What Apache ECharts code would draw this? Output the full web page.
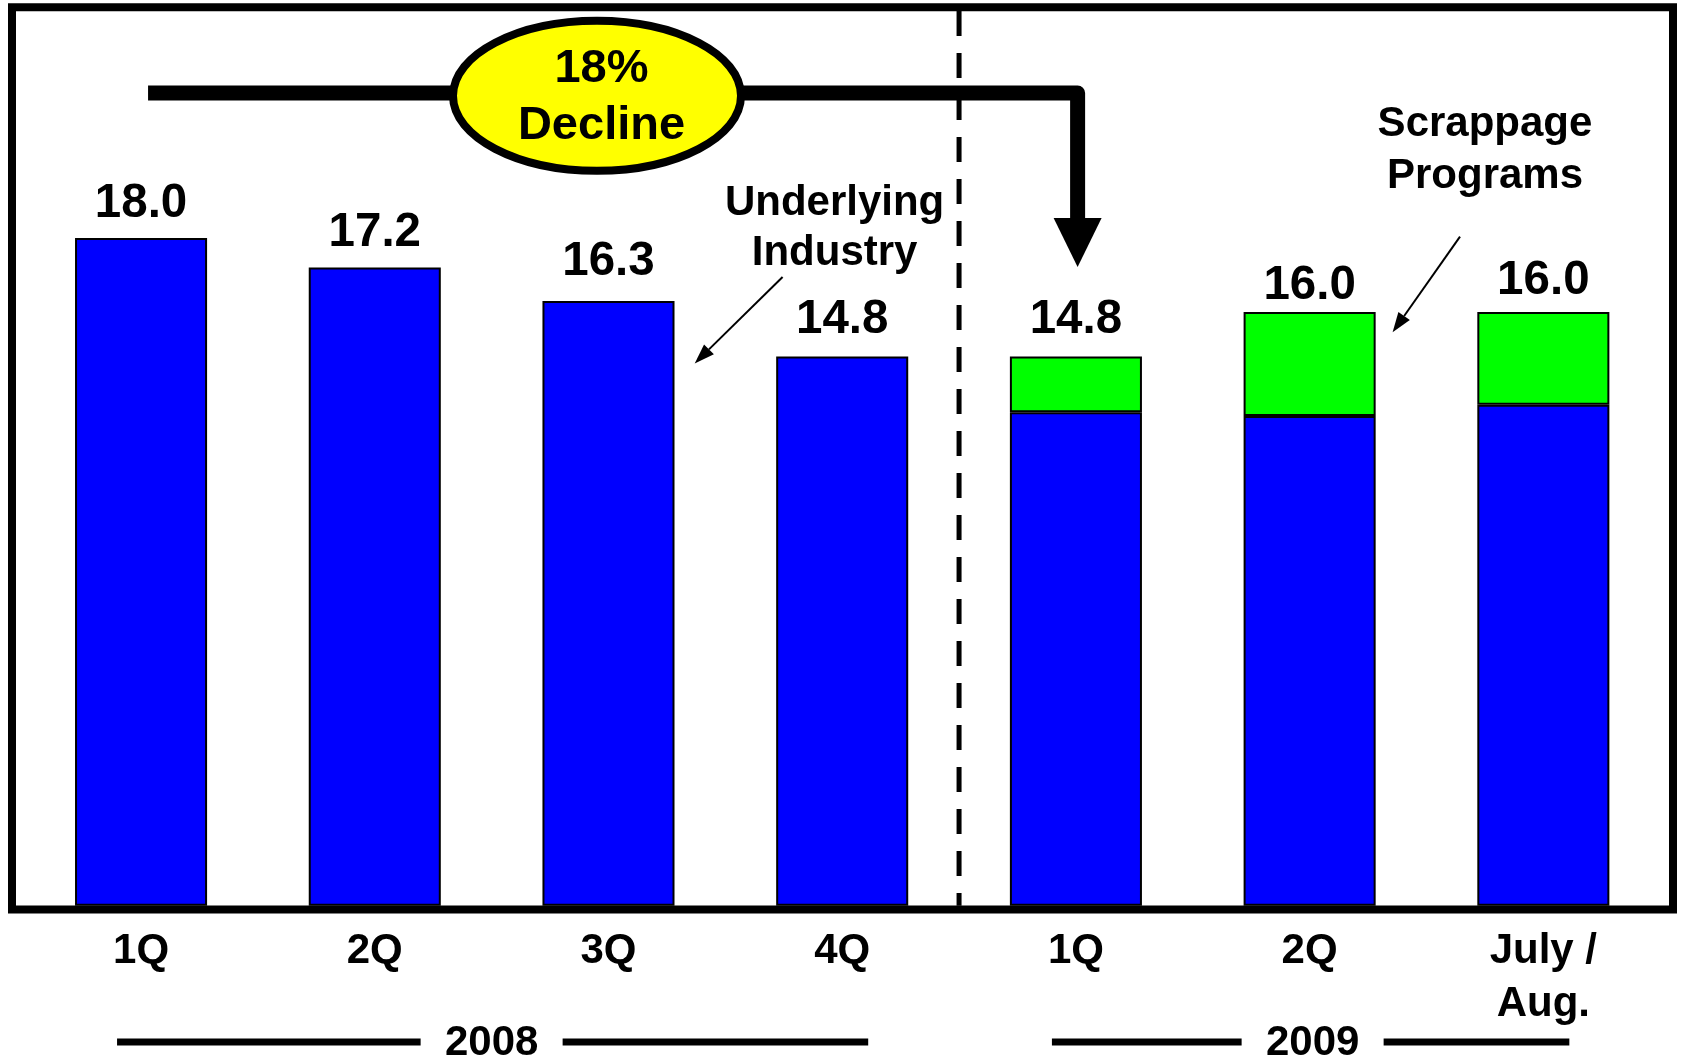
<!DOCTYPE html>
<html>
<head>
<meta charset="utf-8">
<title>Industry volume</title>
<script src="https://cdn.jsdelivr.net/npm/echarts@6/dist/echarts.min.js"></script>
<style>
  html, body { margin: 0; padding: 0; background: #fff; }
  #chart { width: 1681px; height: 1059px; }
</style>
</head>
<body>
<div id="chart"></div>
<script>
// Quarterly industry volume (SAAR, millions)
const categories = ['1Q', '2Q', '3Q', '4Q', '1Q', '2Q', 'July /\nAug.'];
const underlying = [18.0, 17.2, 16.3, 14.8, 13.3, 13.2, 13.5];
const scrappage = [null, null, null, null, 1.5, 2.8, 2.5];
const yearGroups = [
  { year: '2008', first: 0, last: 3 },
  { year: '2009', first: 4, last: 6 }
];
// pixel gap between each bar top and the baseline of its total label
const labelGap = [20, 21, 25, 23, 23, 12, 17];

const totals = underlying.map((u, i) => +(u + (scrappage[i] || 0)).toFixed(1));

const FONT = '"Liberation Sans", Arial, sans-serif';
const chart = echarts.init(document.getElementById('chart'), null, { renderer: 'canvas' });

const baselineShift = 10; // distance from label box bottom to digit baseline
const totalLabel = {
  show: true,
  position: 'top',
  color: '#000000',
  opacity: 1,
  textBorderWidth: 0,
  fontFamily: FONT,
  fontWeight: 'bold',
  fontSize: 47.5
};

chart.setOption({
  backgroundColor: '#ffffff',
  animation: false,
  grid: { left: 24.2, right: 20.8, top: 15.3, bottom: 153.3, containLabel: false },
  xAxis: {
    type: 'category',
    data: categories,
    axisLine: { show: false },
    axisTick: { show: false },
    axisLabel: {
      interval: 0,
      margin: 19,
      color: '#000',
      fontFamily: FONT,
      fontWeight: 'bold',
      fontSize: 42,
      lineHeight: 53
    }
  },
  yAxis: {
    type: 'value',
    min: 0,
    max: 24,
    show: false,
    splitLine: { show: false }
  },
  series: [
    {
      name: 'Underlying Industry',
      type: 'bar',
      stack: 'volume',
      barWidth: '56.5%',
      data: underlying,
      itemStyle: { color: '#0000ff', borderColor: '#000', borderWidth: 2 }
    },
    {
      name: 'Scrappage Programs',
      type: 'bar',
      stack: 'volume',
      barWidth: '56.5%',
      data: scrappage,
      itemStyle: { color: '#00ff00', borderColor: '#000', borderWidth: 2 }
    },
    {
      name: 'Total',
      type: 'scatter',
      symbolSize: 0,
      silent: true,
      itemStyle: { color: '#000000', opacity: 1 },
      data: totals.map((t, i) => ({
        value: t,
        label: Object.assign({}, totalLabel, {
          distance: labelGap[i] - baselineShift,
          formatter: t.toFixed(1)
        })
      })),
      label: totalLabel,
      emphasis: { disabled: true },
      z: 5
    }
  ]
});

// pixel centre of a category band
const cx = i => chart.convertToPixel({ xAxisIndex: 0 }, i);
const y0 = chart.convertToPixel({ yAxisIndex: 0 }, 0);

function thinArrow(x1, y1, x2, y2) {
  const a = Math.atan2(y2 - y1, x2 - x1);
  const len = 20, half = 7;
  const bx = x2 - len * Math.cos(a), by = y2 - len * Math.sin(a);
  const px = -Math.sin(a) * half, py = Math.cos(a) * half;
  return [
    { type: 'line', shape: { x1: x1, y1: y1, x2: bx, y2: by }, style: { stroke: '#000', lineWidth: 2 }, z: 10 },
    { type: 'polygon', shape: { points: [[x2, y2], [bx + px, by + py], [bx - px, by - py]] }, style: { fill: '#000' }, z: 10 }
  ];
}

const elements = [];

// outer frame (its bottom edge doubles as the category baseline)
elements.push({
  type: 'rect',
  shape: { x: 12, y: 7.3, width: 1661, height: 902.2 },
  style: { fill: null, stroke: '#000', lineWidth: 8 },
  z: 20
});

// dashed divider between the two years
const divX = (cx(3) + cx(4)) / 2;
elements.push({
  type: 'line',
  shape: { x1: divX, y1: 11, x2: divX, y2: y0 },
  style: { stroke: '#000', lineWidth: 5, lineDash: [25, 17] },
  z: 4
});

// decline bracket: from the first 2008 quarter across to 1Q 2009
const stemX = cx(4) + 1.7;
elements.push({
  type: 'polyline',
  shape: { points: [[cx(0) + 7, 93], [stemX, 93], [stemX, 220]] },
  style: { stroke: '#000', lineWidth: 15, lineJoin: 'round', lineCap: 'butt', fill: null },
  z: 8
});
elements.push({
  type: 'polygon',
  shape: { points: [[stemX - 24, 218], [stemX + 24, 218], [stemX, 267]] },
  style: { fill: '#000' },
  z: 8
});
elements.push({
  type: 'ellipse',
  shape: { cx: 597, cy: 95.8, rx: 144, ry: 75 },
  style: { fill: '#ffff00', stroke: '#000', lineWidth: 8 },
  z: 9
});
elements.push({
  type: 'text',
  x: 601.5, y: 97.5,
  style: {
    text: '18%\nDecline', fill: '#000', font: 'bold 47px ' + FONT,
    lineHeight: 57.8, align: 'center', verticalAlign: 'middle'
  },
  z: 10
});

// annotations
elements.push({
  type: 'text',
  x: 834.6, y: 228,
  style: {
    text: 'Underlying\nIndustry', fill: '#000', font: 'bold 42px ' + FONT,
    lineHeight: 50, align: 'center', verticalAlign: 'middle'
  },
  z: 10
});
elements.push(...thinArrow(782.6, 277, 694.7, 363.4));
elements.push({
  type: 'text',
  x: 1485, y: 150.5,
  style: {
    text: 'Scrappage\nPrograms', fill: '#000', font: 'bold 42px ' + FONT,
    lineHeight: 51.6, align: 'center', verticalAlign: 'middle'
  },
  z: 10
});
elements.push(...thinArrow(1460, 236.7, 1392.6, 332.3));

// year brackets under the quarter labels
yearGroups.forEach(g => {
  const left = cx(g.first) - 24;
  const right = cx(g.last) + 26;
  const mid = (cx(g.first) + cx(g.last)) / 2 + (g.first === 0 ? 0 : 3);
  const halfGap = 71;
  elements.push({
    type: 'line', shape: { x1: left, y1: 1042, x2: mid - halfGap, y2: 1042 },
    style: { stroke: '#000', lineWidth: 7 }, z: 10
  });
  elements.push({
    type: 'line', shape: { x1: mid + halfGap, y1: 1042, x2: right, y2: 1042 },
    style: { stroke: '#000', lineWidth: 7 }, z: 10
  });
  elements.push({
    type: 'text', x: mid, y: 1043,
    style: {
      text: g.year, fill: '#000', font: 'bold 42px ' + FONT,
      align: 'center', verticalAlign: 'middle'
    },
    z: 10
  });
});

chart.setOption({ graphic: { elements: elements } });
</script>
</body>
</html>
